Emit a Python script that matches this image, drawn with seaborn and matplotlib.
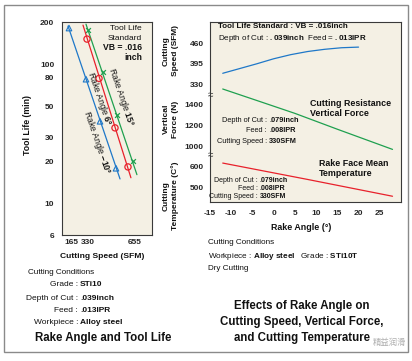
import numpy as np
import seaborn as sns
import matplotlib
matplotlib.use("Agg")
import matplotlib.pyplot as plt
from matplotlib.patches import Rectangle
from matplotlib.ticker import FixedLocator, NullFormatter, NullLocator

# left chart: tool life vs cutting speed (the printed speed scale is uneven)
speed_knots = [0, 165, 250, 330, 500, 655, 1000]
speed_knot_pos = [53.5, 71, 80, 88, 116, 135, 177.3]
speed_ticks = [165, 250, 330, 500, 655]
speed_tick_labels = ['165', '', '330', '', '655']
life_ticks = [6, 10, 20, 30, 50, 80, 100, 200]
life_minor = [8, 9, 15, 25, 40, 60, 90, 150]

speed_m10 = [146, 310, 403, 500]
life_m10 = [181, 78, 39, 18]
speed_p6 = [320, 397, 494, 598]
life_p6 = [151, 79, 35, 18.4]
speed_p15 = [330, 421, 508, 639]
life_p15 = [175, 88, 43.5, 20.4]

fit_speed_m10 = [137, 533]
fit_life_m10 = [187, 15.1]
fit_speed_p6 = [280, 622]
fit_life_p6 = [190, 15.4]
fit_speed_p15 = [310, 671]
fit_life_p15 = [193, 16.2]

# right chart: effects of rake angle
rake_speed = [-12, -8, -4, 0, 4, 8, 12, 16, 20]
cut_speed = [364, 379, 394, 410, 423, 433, 440, 445, 447]
rake_force = [-12, -4, 5, 15, 28]
vert_force = [1543, 1434, 1311, 1160, 968]
rake_temp = [-12, 8, 28]
face_temp = [614, 536, 456]
rake_ticks = [-15, -10, -5, 0, 5, 10, 15, 20, 25]
speed_yticks = [330, 395, 460]
force_yticks = [1000, 1200, 1400]
temp_yticks = [500, 600]

BEIGE = '#f4f0e4'
BLUE = '#1f78c8'
RED = '#e8212b'
GREEN = '#1fa04f'
FRAME = '#3a3a3a'
TICK = '#9a9a9a'

sns.set_style('white')
plt.rcParams['font.family'] = ['Liberation Sans', 'DejaVu Sans']
plt.rcParams['mathtext.fontset'] = 'custom'
plt.rcParams['mathtext.rm'] = 'Liberation Sans'
plt.rcParams['mathtext.bf'] = 'Liberation Sans:bold'
plt.rcParams['mathtext.it'] = 'Liberation Sans:italic'
plt.rcParams['text.color'] = '#111111'

W, H = 412, 361
fig = plt.figure(figsize=(W / 100, H / 100), dpi=100)


def px(x, y):
    return x / W, 1 - y / H


def rect(x0, y0, x1, y1):
    return [x0 / W, 1 - y1 / H, (x1 - x0) / W, (y1 - y0) / H]


def label(x, y, s, size=6, weight='normal', ha='left', **kw):
    return fig.text(*px(x, y), s, fontsize=size, fontweight=weight,
                    ha=ha, va='center', **kw)


def cond(x, y, key, val, size=6):
    label(x, y, key + ' :', size, ha='right')
    label(x + 2, y, val, size, weight='bold')


# ---------------- left chart
axL = fig.add_axes(rect(62, 22, 152, 235))
axL.set_facecolor(BEIGE)
fwd = lambda v: np.interp(v, speed_knots, speed_knot_pos)
inv = lambda p: np.interp(p, speed_knot_pos, speed_knots)
axL.set_xscale('function', functions=(fwd, inv))
axL.set_yscale('log')

sns.lineplot(x=fit_speed_m10, y=fit_life_m10, ax=axL, color=BLUE, lw=0.9)
sns.lineplot(x=fit_speed_p6, y=fit_life_p6, ax=axL, color=RED, lw=0.9)
sns.lineplot(x=fit_speed_p15, y=fit_life_p15, ax=axL, color=GREEN, lw=0.9)
sns.scatterplot(x=speed_m10, y=life_m10, ax=axL, marker='^', s=16, color=BLUE,
                facecolor='none', edgecolor=BLUE, linewidth=0.8, zorder=3)
sns.scatterplot(x=speed_p6, y=life_p6, ax=axL, marker='o', s=20, color=RED,
                facecolor='none', edgecolor=RED, linewidth=0.9, zorder=3)
sns.scatterplot(x=speed_p15, y=life_p15, ax=axL, marker='x', s=12, color=GREEN,
                linewidth=0.9, zorder=3)

axL.set_xlim(80, 794)
axL.set_ylim(6, 200)
axL.set_xticks(speed_ticks, speed_tick_labels, fontweight='bold')
axL.xaxis.set_minor_locator(NullLocator())
axL.set_yticks(life_ticks, [str(v) for v in life_ticks], fontweight='bold')
axL.yaxis.set_minor_locator(FixedLocator(life_minor))
axL.yaxis.set_minor_formatter(NullFormatter())
axL.tick_params(axis='x', which='both', direction='in', length=4, width=0.9,
                color=TICK, labelsize=6, pad=3)
axL.tick_params(axis='y', which='both', direction='out', length=4, width=0.9,
                color=TICK, labelsize=6, pad=1.5)
axL.set_xlabel('')
axL.set_ylabel('')
for sp in axL.spines.values():
    sp.set_color(FRAME)
    sp.set_linewidth(0.8)

label(28, 125, 'Tool Life (min)', 6.3, 'bold', ha='center', rotation=90)
label(102, 256, 'Cutting Speed (SFM)', 6.1, 'bold', ha='center')
label(142, 28, 'Tool Life', 6, ha='right')
label(142, 38, 'Standard', 6, ha='right')
label(142, 48, 'VB = .016', 6.2, 'bold', ha='right')
label(142, 58, 'inch', 6.2, 'bold', ha='right')

for (x, y, s) in [(121, 97, r'Rake Angle $\mathbf{15°}$'),
                  (99, 99, r'Rake Angle $\mathbf{6°}$'),
                  (97, 142, r'Rake Angle $\mathbf{-10°}$')]:
    fig.text(*px(x, y), s, fontsize=6.2, rotation=-71, rotation_mode='anchor',
             ha='center', va='center')

label(28, 272, 'Cutting Conditions', 5.9)
cond(78, 285, 'Grade', 'STi10')
cond(78, 298, 'Depth of Cut', '.039inch')
cond(78, 310, 'Feed', '.013IPR')
cond(78, 322, 'Workpiece', 'Alloy steel')
label(103, 338, 'Rake Angle and Tool Life', 8.3, 'bold', ha='center')

# ---------------- right chart (three scales on one frame)
axS = fig.add_axes(rect(210, 22, 401, 202))
axS.set_facecolor(BEIGE)
axF = fig.add_axes(rect(210, 22, 401, 202), sharex=axS)
axT = fig.add_axes(rect(210, 22, 401, 202), sharex=axS)
for ax in (axF, axT):
    ax.patch.set_visible(False)

sns.lineplot(x=rake_speed, y=cut_speed, ax=axS, color=BLUE, lw=0.9)
sns.lineplot(x=rake_force, y=vert_force, ax=axF, color=GREEN, lw=0.9)
sns.lineplot(x=rake_temp, y=face_temp, ax=axT, color=RED, lw=0.9)

axS.set_xlim(-15, 30)
for ax, lim, ticks in [(axS, (-44.1, 526.6), speed_yticks),
                       (axF, (467, 2181), force_yticks),
                       (axT, (428.6, 1285.7), temp_yticks)]:
    ax.set_ylim(*lim)
    ax.set_yticks(ticks, [str(t) for t in ticks], fontweight='bold')
    ax.tick_params(axis='y', direction='out', length=3, width=0.8,
                   color=FRAME, labelsize=6, pad=1.5)
    ax.set_xlabel('')
    ax.set_ylabel('')
for ax in (axF, axT):
    for sp in ax.spines.values():
        sp.set_visible(False)
    ax.tick_params(axis='x', bottom=False, labelbottom=False)
axS.set_xticks(rake_ticks, [str(t) for t in rake_ticks], fontweight='bold')
axS.tick_params(axis='x', direction='out', length=3, width=0.8, color=FRAME,
                labelsize=6, pad=2.5)
for sp in axS.spines.values():
    sp.set_color(FRAME)
    sp.set_linewidth(0.8)

label(210, 95, '≈', 7, ha='center', color=FRAME)
label(210, 155, '≈', 7, ha='center', color=FRAME)

for (y, s) in [(51, 'Cutting\nSpeed (SFM)'), (119, 'Vertical\nForce (N)'),
               (196, 'Cutting\nTemperature (C°)')]:
    label(171, y, s, 6, 'bold', ha='center', rotation=90, multialignment='center',
          linespacing=1.35)

label(218, 27, 'Tool Life Standard : VB = .016inch', 5.8, 'bold')
label(218, 38, r'Depth of Cut : $\mathbf{.039inch}$  Feed = $\mathbf{.013IPR}$', 5.8)
label(310, 103, 'Cutting Resistance', 6.4, 'bold')
label(310, 114, 'Vertical Force', 6.4, 'bold')
cond(267, 121, 'Depth of Cut', '.079inch', 5.3)
cond(267, 131, 'Feed', '.008IPR', 5.3)
cond(267, 141, 'Cutting Speed', '330SFM', 5.3)
label(319, 163, 'Rake Face Mean', 6.4, 'bold')
label(319, 173, 'Temperature', 6.4, 'bold')
cond(258, 181, 'Depth of Cut', '.079inch', 5.0)
cond(258, 188, 'Feed', '.008IPR', 5.0)
cond(258, 196, 'Cutting Speed', '330SFM', 5.0)

label(301, 227, 'Rake Angle (°)', 6.4, 'bold', ha='center')
label(208, 243, 'Cutting Conditions', 5.9)
label(208, 256, r'Workpiece : $\mathbf{Alloy\ steel}$   Grade : $\mathbf{STi10T}$', 5.9)
label(208, 268, 'Dry Cutting', 5.9)
label(302, 306, 'Effects of Rake Angle on', 8.3, 'bold', ha='center')
label(302, 322, 'Cutting Speed, Vertical Force,', 8.3, 'bold', ha='center')
label(302, 338, 'and Cutting Temperature', 8.3, 'bold', ha='center')
label(373, 343, '精益润滑', 6, ha='left', color='#b0b0b0',
      family=['Noto Sans CJK SC', 'DejaVu Sans'])

fig.patches.append(Rectangle(px(4, 352), 404 / W, 347 / H, transform=fig.transFigure,
                             fill=False, ec='#8a8a8a', lw=1))

fig.savefig('out.png', dpi=100)
